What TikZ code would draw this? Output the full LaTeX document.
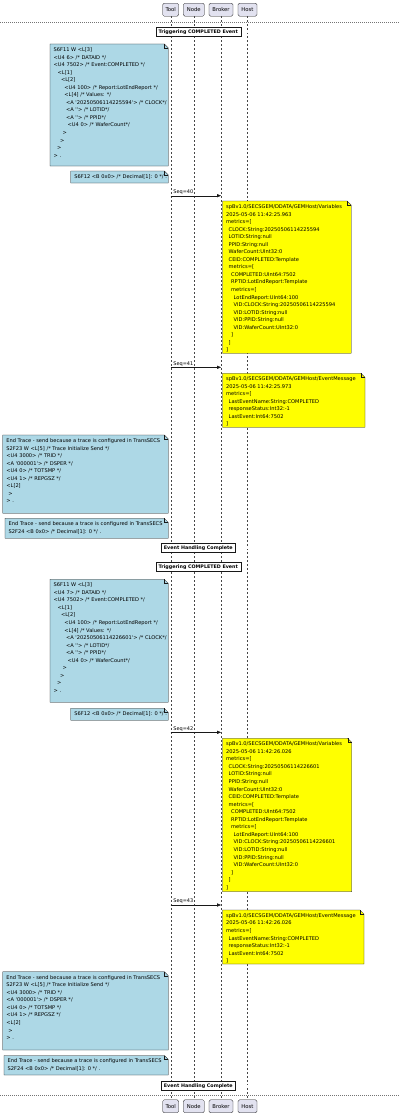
\documentclass[tikz,border=0pt]{standalone}
\usepackage{fontspec}
\setmainfont{DejaVu Sans}
\usetikzlibrary{arrows.meta}
\definecolor{partfill}{HTML}{E2E2F0}
\definecolor{umlline}{HTML}{181818}
\definecolor{secsnote}{HTML}{ADD8E6}
\definecolor{mqttnote}{HTML}{FFFF00}
\newcommand{\q}{\textquotesingle}
\newcommand{\ind}[1]{\hspace*{#1pt}}
% name, x, top, width, height, fill, text
\newcommand{\notebox}[7]{%
  \node[notearea, minimum width=#4pt, minimum height=#5pt] (#1) at (#2,-#3) {};
  \filldraw[noteline, fill=#6] (#1.south west) -- (#1.north west) -- ([xshift=-4pt]#1.north east)
    -- ([yshift=-4pt]#1.north east) -- (#1.south east) -- cycle;
  \draw[noteline] ([xshift=-4pt]#1.north east) |- ([yshift=-4pt]#1.north east);
  \node[notetext] (#1t) at ([shift={(3.5pt,-3.4pt)}]#1.north west) {#7};
}

\begin{document}
\begin{tikzpicture}[x=1pt, y=1pt,
    part/.style={draw=umlline, fill=partfill, line width=0.3pt, rounded corners=1.5pt,
      minimum height=13pt, inner sep=0pt, font=\fontsize{5.3}{6}\selectfont},
    lifeline/.style={draw=umlline!80, line width=0.3pt, dash pattern=on 2pt off 2pt},
    sepline/.style={draw=umlline!60, line width=0.3pt, dash pattern=on 1pt off 1pt},
    divline/.style={draw=umlline!75, line width=0.35pt, double=white, double distance=1.1pt},
    divbox/.style={draw=umlline, fill=white, line width=0.35pt, minimum height=9pt,
      inner xsep=3pt, inner ysep=0pt, font=\fontsize{4.8}{6}\selectfont\bfseries},
    notearea/.style={anchor=north west, inner sep=0pt, outer sep=0pt},
    noteline/.style={draw=umlline, line width=0.3pt},
    notetext/.style={anchor=north west, inner sep=0pt, align=left,
      font=\fontsize{5.1}{7.55}\selectfont},
    msg/.style={draw=umlline, line width=0.35pt, -{Triangle[length=4pt,width=3.2pt]}},
    seq/.style={anchor=south west, inner sep=1pt, xshift=1.5pt, font=\fontsize{5}{6}\selectfont}]
    \useasboundingbox (0,0) rectangle (400,-1116);

    % participants, top and bottom
    \foreach \p/\t/\x/\w in {tool/Tool/170.7/16, node/Node/193.8/21, broker/Broker/221/24, host/Host/247.5/19}{
        \node[part, minimum width=\w pt] (p\p) at (\x,-9.7) {\t};
        \node[part, minimum width=\w pt] (b\p) at (\x,-1106.3) {\t};
        \draw[lifeline] (p\p) -- (b\p);
    }
    \draw[sepline] (0,-21.7) -- (400,-21.7);
    \draw[sepline] (0,-1095) -- (400,-1095);

    % section dividers
    \foreach \n/\y/\t in {div1/32/Triggering COMPLETED Event, div2/548/Event Handling Complete,
                          div3/567/Triggering COMPLETED Event, div4/1086/Event Handling Complete}{
        \draw[divline] (0,-\y) -- (400,-\y);
        \node[divbox] (\n) at (198.3,-\y) {\t};
    }

    % messages Tool -> Broker
    \foreach \m/\y in {40/195.7, 41/367.3, 42/732.3, 43/905}{
        \coordinate (tl\m) at (170.7,-\y);
        \coordinate (bk\m) at (221,-\y);
        \draw[msg] (tl\m) -- node[seq, pos=0] {Seq=\m} (bk\m);
    }

    % first event
    \notebox{ev1}{50}{44}{118.3}{122}{secsnote}{S6F11 W <L[3]\\
<U4 6>  /* DATAID */\\
<U4 7502>  /* Event:COMPLETED */\\
\ind{4}<L[1]\\
\ind{7.3}<L[2]\\
\ind{10.7}<U4 100>  /* Report:LotEndReport */\\
\ind{10.7}<L[4]  /* Values: */\\
\ind{12.3}<A \q20250506114225594\q>  /* CLOCK*/\\
\ind{12.3}<A \q\q>  /* LOTID*/\\
\ind{12.3}<A \q\q>  /* PPID*/\\
\ind{14}<U4 0>  /* WaferCount*/\\
\ind{9}>\\
\ind{6.3}>\\
\ind{3.3}>\\
> .}
    \notebox{ack1}{70.7}{171}{97.6}{12}{secsnote}{S6F12 <B 0x0> /* Decimal[1]: 0 */ .}
    \notebox{var1}{222.5}{201}{128.7}{152.3}{mqttnote}{spBv1.0/SECSGEM/DDATA/GEMHost/Variables\\
2025-05-06 11:42:25.963\\
metrics=[\\
\ind{2.5}CLOCK:String:20250506114225594\\
\ind{2.5}LOTID:String:null\\
\ind{2.5}PPID:String:null\\
\ind{2.5}WaferCount:UInt32:0\\
\ind{2.5}CEID:COMPLETED:Template\\
\ind{2.5}metrics=[\\
\ind{5}COMPLETED:UInt64:7502\\
\ind{5}RPTID:LotEndReport:Template\\
\ind{5}metrics=[\\
\ind{7.5}LotEndReport:UInt64:100\\
\ind{7.5}VID:CLOCK:String:20250506114225594\\
\ind{7.5}VID:LOTID:String:null\\
\ind{7.5}VID:PPID:String:null\\
\ind{7.5}VID:WaferCount:UInt32:0\\
\ind{5}]\\
\ind{2.5}]\\
]}
    \notebox{msg1}{222.5}{373.3}{142.5}{54}{mqttnote}{spBv1.0/SECSGEM/DDATA/GEMHost/EventMessage\\
2025-05-06 11:42:25.973\\
metrics=[\\
\ind{2.5}LastEventName:String:COMPLETED\\
\ind{2.5}responseStatus:Int32:-1\\
\ind{2.5}LastEvent:Int64:7502\\
]}
    \notebox{trc1}{2.7}{435}{165.6}{78.3}{secsnote}{End Trace - send because a trace is configured in TransSECS\\
S2F23 W <L[5] /* Trace Initialize Send  */\\
<U4 3000> /* TRID */\\
<A \q000001\q> /* DSPER */\\
<U4 0> /* TOTSMP */\\
<U4 1> /* REPGSZ */\\
<L[2]\\
\ind{2}>\\
> .}
    \notebox{end1}{5}{518.3}{163.3}{20}{secsnote}{End Trace - send because a trace is configured in TransSECS\\
S2F24 <B 0x0> /* Decimal[1]: 0 */ .}

    % second event
    \notebox{ev2}{50}{579.3}{118.3}{123}{secsnote}{S6F11 W <L[3]\\
<U4 7>  /* DATAID */\\
<U4 7502>  /* Event:COMPLETED */\\
\ind{4}<L[1]\\
\ind{7.3}<L[2]\\
\ind{10.7}<U4 100>  /* Report:LotEndReport */\\
\ind{10.7}<L[4]  /* Values: */\\
\ind{12.3}<A \q20250506114226601\q>  /* CLOCK*/\\
\ind{12.3}<A \q\q>  /* LOTID*/\\
\ind{12.3}<A \q\q>  /* PPID*/\\
\ind{14}<U4 0>  /* WaferCount*/\\
\ind{9}>\\
\ind{6.3}>\\
\ind{3.3}>\\
> .}
    \notebox{ack2}{70.7}{708.3}{97.6}{12}{secsnote}{S6F12 <B 0x0> /* Decimal[1]: 0 */ .}
    \notebox{var2}{222.5}{738.3}{129.2}{153.4}{mqttnote}{spBv1.0/SECSGEM/DDATA/GEMHost/Variables\\
2025-05-06 11:42:26.026\\
metrics=[\\
\ind{2.5}CLOCK:String:20250506114226601\\
\ind{2.5}LOTID:String:null\\
\ind{2.5}PPID:String:null\\
\ind{2.5}WaferCount:UInt32:0\\
\ind{2.5}CEID:COMPLETED:Template\\
\ind{2.5}metrics=[\\
\ind{5}COMPLETED:UInt64:7502\\
\ind{5}RPTID:LotEndReport:Template\\
\ind{5}metrics=[\\
\ind{7.5}LotEndReport:UInt64:100\\
\ind{7.5}VID:CLOCK:String:20250506114226601\\
\ind{7.5}VID:LOTID:String:null\\
\ind{7.5}VID:PPID:String:null\\
\ind{7.5}VID:WaferCount:UInt32:0\\
\ind{5}]\\
\ind{2.5}]\\
]}
    \notebox{msg2}{222.5}{910}{141.5}{54}{mqttnote}{spBv1.0/SECSGEM/DDATA/GEMHost/EventMessage\\
2025-05-06 11:42:26.026\\
metrics=[\\
\ind{2.5}LastEventName:String:COMPLETED\\
\ind{2.5}responseStatus:Int32:-1\\
\ind{2.5}LastEvent:Int64:7502\\
]}
    \notebox{trc2}{2.7}{971.7}{165.6}{78.3}{secsnote}{End Trace - send because a trace is configured in TransSECS\\
S2F23 W <L[5] /* Trace Initialize Send  */\\
<U4 3000> /* TRID */\\
<A \q000001\q> /* DSPER */\\
<U4 0> /* TOTSMP */\\
<U4 1> /* REPGSZ */\\
<L[2]\\
\ind{2}>\\
> .}
    \notebox{end2}{4}{1055.5}{164.3}{19.5}{secsnote}{End Trace - send because a trace is configured in TransSECS\\
S2F24 <B 0x0> /* Decimal[1]: 0 */ .}
\end{tikzpicture}
\end{document}
